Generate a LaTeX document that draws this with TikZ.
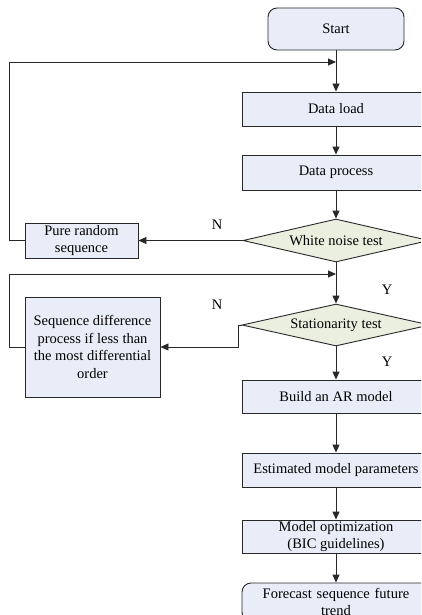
\documentclass[tikz,border=0pt]{standalone}
\usepackage{fontspec}
\setmainfont{Liberation Serif}
\usetikzlibrary{shapes.geometric,arrows.meta}
\definecolor{boxfill}{RGB}{232,237,247}
\definecolor{dfill}{RGB}{235,239,224}
\definecolor{ln}{RGB}{40,40,40}
\tikzset{
  base/.style={draw=ln, line width=0.9pt, inner sep=1pt, align=center,
    font=\fontsize{14.5}{17.5}\selectfont},
  proc/.style={base, rectangle, fill=boxfill},
  wide/.style={proc, minimum width=188pt},
  term/.style={proc, rounded corners=9pt},
  dec/.style={base, diamond, fill=dfill, aspect=4.4, inner sep=0pt},
  arr/.style={draw=ln, line width=0.9pt, -{Triangle[length=8pt,width=7pt]}},
  lbl/.style={font=\fontsize{14.5}{17.5}\selectfont, inner sep=0pt}
}
\begin{document}
\begin{tikzpicture}[x=1pt,y=-1pt]
\useasboundingbox (0,0) rectangle (421,615);
\clip (0,0) rectangle (421,615);
\fill[white] (0,0) rectangle (421,615);
\node[term, minimum width=136pt, minimum height=42pt] (start) at (336,29) {Start};
\node[wide, minimum height=34pt] (load) at (336,109) {Data load};
\node[wide, minimum height=35pt] (dproc) at (336,172.5) {Data process};
\node[dec, minimum width=186pt, minimum height=43pt] (wn) at (336,240.5) {White noise test};
\node[proc, minimum width=113pt, minimum height=35pt] (pr) at (81.5,240.5) {Pure random\\sequence};
\node[dec, minimum width=188pt, minimum height=42pt] (st) at (336,325) {Stationarity test};
\node[proc, minimum width=135pt, minimum height=100pt] (sd) at (92.5,347) {Sequence difference\\process if less than\\the most differential\\order};
\node[wide, minimum height=33pt] (ar) at (336,396.5) {Build an AR model};
\node[wide, minimum height=34pt] (em) at (336,470) {Estimated model parameters};
\node[wide, minimum height=33pt] (mo) at (336,536.5) {Model optimization\\(BIC guidelines)};
\node[term, minimum height=38pt, text width=186pt] (fc) at (336,602) {Forecast sequence future\\trend};
\coordinate (j1) at (336,62);
\coordinate (j2) at (336,274);
\node[lbl] (n1) at (217,225) {N};
\node[lbl] (y1) at (387,290) {Y};
\node[lbl] (n2) at (217,305) {N};
\node[lbl] (y2) at (387,362) {Y};
\draw[arr] (start) -- (load);
\draw[arr] (load) -- (dproc);
\draw[arr] (dproc) -- (wn);
\draw[arr] (wn.west) -- (pr.east);
\draw[arr] (pr.west) -- ++(-15,0) |- (j1);
\draw[arr] (wn.south) -- (st.north);
\draw[arr] (st.west) -- ++(-3,0) |- (sd.east);
\draw[arr] (sd.west) -- ++(-15,0) |- (j2);
\draw[arr] (st.south) -- (ar.north);
\draw[arr] (ar) -- (em);
\draw[arr] (em) -- (mo);
\draw[arr] (mo) -- (fc);
\end{tikzpicture}
\end{document}
